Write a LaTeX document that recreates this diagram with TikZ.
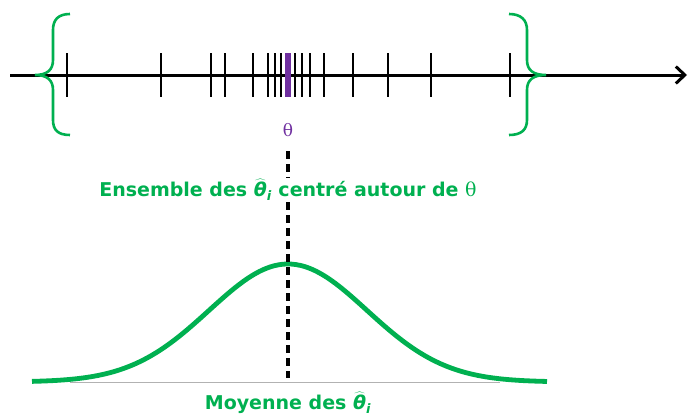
\documentclass[tikz,border=0pt]{standalone}
\usepackage{fontspec}
\setmainfont{DejaVu Sans}
\newfontfamily\symfont{DejaVu Serif}
\usetikzlibrary{arrows.meta}
\definecolor{grn}{RGB}{0,176,80}
\definecolor{prp}{RGB}{112,48,160}
\newcommand{\thetahat}{$\widehat{\hbox{\bfseries\itshape θ}}_{\hbox{\fontsize{13}{13}\selectfont\bfseries\itshape i}}$}
\begin{document}
\begin{tikzpicture}[x=1pt,y=-1pt,
  tick/.style={black,line width=2.6pt},
  brace/.style={grn,line width=2.6pt},
  lbl/.style={font=\bfseries\fontsize{19}{22}\selectfont,text=grn,inner sep=1pt},
  dashline/.style={black,line width=3.4pt,dash pattern=on 8pt off 5pt}]
\useasboundingbox (0,0) rectangle (689,418);
% axis
\coordinate (a0) at (10,75);
\coordinate (a1) at (687,75);
\draw[line width=3pt,-{Straight Barb[length=9pt,width=17pt,line width=3pt]}] (a0) -- (a1);
% ticks
\foreach \x in {67,161,211,225,253,268,275,281,295,302,310,324,353,388,431,510}
  \draw[tick] (\x,53) -- (\x,97);
\draw[prp,line width=5.5pt] (288,53) -- (288,97);
% braces
\draw[brace] (70,14) .. controls (58,14) and (53,20) .. (53,30) -- (53,60)
  .. controls (53,70) and (47,75) .. (35,75)
  .. controls (47,75) and (53,80) .. (53,90) -- (53,120)
  .. controls (53,130) and (58,135) .. (70,135);
\draw[brace] (509,14) .. controls (521,14) and (527,20) .. (527,30) -- (527,60)
  .. controls (527,70) and (533,75) .. (546,75)
  .. controls (533,75) and (527,80) .. (527,90) -- (527,120)
  .. controls (527,130) and (521,135) .. (509,135);
% labels
\node[text=prp,font=\symfont\fontsize{17}{19}\selectfont] (th) at (288,130) {θ};
\node[lbl] (ens) at (288,190) {Ensemble des \thetahat\ centré autour de {\symfont\mdseries θ}};
\node[lbl] (moy) at (288,403) {Moyenne des \thetahat};
% baseline
\coordinate (b0) at (70,382);
\coordinate (b1) at (500,382);
\draw[gray!60,line width=0.9pt] (b0) -- (b1);
% bell curve
\draw[grn,line width=4.8pt,domain=-256:259,samples=120,smooth]
  plot (288+\x,{382-118*exp(-0.5*(\x/79)*(\x/79))});
\coordinate (d0) at (288,151);
\coordinate (d1) at (288,378);
\draw[dashline] (d0) -- (ens.north);
\draw[dashline] (ens.south) -- (d1);
\end{tikzpicture}
\end{document}
